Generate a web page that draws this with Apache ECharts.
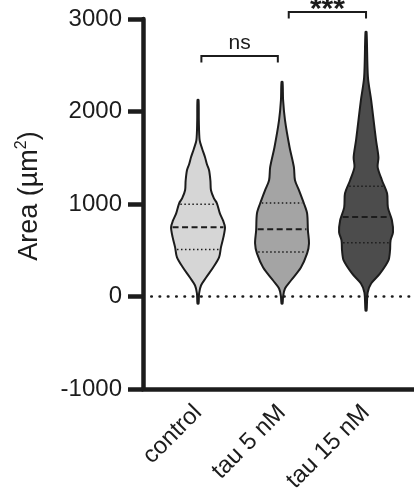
<!DOCTYPE html>
<html>
<head>
<meta charset="utf-8">
<script src="https://cdn.jsdelivr.net/npm/echarts@6/dist/echarts.min.js"></script>
<style>
  html, body { margin: 0; padding: 0; background: #fff; }
  #chart { width: 414px; height: 497px; }
</style>
</head>
<body>
<div id="chart"></div>
<script>
// groups, x position 1..3
const categories = ['control', 'tau 5 nM', 'tau 15 nM'];

// violin outlines: area levels (µm²) and relative density at each level
const controlLevels = [-76, 33, 119, 206, 314, 423, 531, 639, 748, 820, 899, 1008, 1060, 1148, 1250, 1365, 1430, 1506, 1600, 1690, 1900, 2124];
const controlDensity = [0.02, 0.04, 0.11, 0.30, 0.56, 0.78, 0.85, 0.94, 1.0, 0.93, 0.81, 0.70, 0.59, 0.48, 0.46, 0.41, 0.33, 0.26, 0.15, 0.06, 0.03, 0.02];

const tau5Levels = [-76, 0, 87, 173, 314, 466, 574, 715, 899, 1008, 1148, 1257, 1398, 1614, 1907, 2124, 2318];
const tau5Density = [0.02, 0.04, 0.11, 0.33, 0.70, 0.93, 1.0, 0.96, 0.93, 0.81, 0.63, 0.48, 0.44, 0.28, 0.11, 0.04, 0.02];

const tau15Levels = [-152, 43, 141, 249, 390, 498, 607, 694, 824, 964, 1116, 1257, 1398, 1506, 1690, 1907, 2124, 2373, 2860];
const tau15Density = [0.02, 0.06, 0.19, 0.52, 0.83, 0.89, 0.91, 1.0, 0.96, 0.81, 0.78, 0.59, 0.43, 0.46, 0.37, 0.28, 0.19, 0.07, 0.02];

// quartiles
const medians = [748, 726, 859];
const lowerQuartiles = [509, 480, 582];
const upperQuartiles = [997, 1011, 1192];

// significance brackets
const bracketStart = [1.04, 2.08];
const bracketEnd = [1.95, 3.0];
const bracketHeight = [2600, 3077];
const bracketLabels = ['ns', '***'];

const yTicks = [-1000, 0, 1000, 2000, 3000];

const violinLevels = [controlLevels, tau5Levels, tau15Levels];
const violinDensity = [controlDensity, tau5Density, tau15Density];
const fills = ['#d6d6d6', '#a4a4a4', '#4c4c4c'];
const ink = '#1c1c1c';
const HALF_WIDTH = 0.321; // x units for density 1
const font = "'Liberation Sans', Arial, sans-serif";

function widthAt(levels, dens, v) {
  for (let k = 0; k < levels.length - 1; k++) {
    if (v >= levels[k] && v <= levels[k + 1]) {
      const t = (v - levels[k]) / (levels[k + 1] - levels[k]);
      return dens[k] + t * (dens[k + 1] - dens[k]);
    }
  }
  return 0;
}

function renderViolin(params, api) {
  const i = params.dataIndex;
  const cx = api.value(0);
  const levels = violinLevels[i];
  const dens = violinDensity[i];
  const right = [];
  const left = [];
  for (let k = 0; k < levels.length; k++) {
    const w = dens[k] * HALF_WIDTH;
    right.push(api.coord([cx + w, levels[k]]));
    left.push(api.coord([cx - w, levels[k]]));
  }
  const children = [{
    type: 'polygon',
    shape: { points: right.concat(left.reverse()), smooth: 0.3 },
    style: { fill: fills[i], stroke: ink, lineWidth: 2 }
  }];
  const lines = [
    [lowerQuartiles[i], [1.5, 2.5], 1.5],
    [medians[i], [6, 3.5], 2],
    [upperQuartiles[i], [1.5, 2.5], 1.5]
  ];
  lines.forEach(([v, dash, lw]) => {
    const w = widthAt(levels, dens, v) * HALF_WIDTH;
    const a = api.coord([cx - w, v]);
    const b = api.coord([cx + w, v]);
    children.push({
      type: 'line',
      shape: { x1: a[0] + 1.5, y1: a[1], x2: b[0] - 1.5, y2: b[1] },
      style: { stroke: ink, lineWidth: lw, lineDash: dash }
    });
  });
  return { type: 'group', children };
}

function renderBracket(params, api) {
  const i = params.dataIndex;
  const a = api.coord([api.value(0), api.value(2)]);
  const b = api.coord([api.value(1), api.value(2)]);
  const leg = 6.5;
  const label = bracketLabels[i];
  const stars = label.indexOf('*') >= 0;
  return {
    type: 'group',
    children: [
      {
        type: 'polyline',
        shape: { points: [[a[0], a[1] + leg], a, b, [b[0], b[1] + leg]] },
        style: { stroke: ink, lineWidth: 2, fill: null }
      },
      {
        type: 'text',
        x: (a[0] + b[0]) / 2,
        y: a[1] - (stars ? 2 : 13),
        style: {
          text: label,
          fill: ink,
          font: (stars ? 'bold 30px ' : '21px ') + font,
          align: 'center',
          verticalAlign: 'middle'
        }
      }
    ]
  };
}

const chart = echarts.init(document.getElementById('chart'));

chart.setOption({
  animation: false,
  grid: { left: 143, right: 0, top: 19, bottom: 108, containLabel: false },
  xAxis: {
    type: 'value',
    min: 0.345,
    max: 3.571,
    splitLine: { show: false },
    axisTick: { show: false },
    axisLine: { onZero: false, lineStyle: { color: ink, width: 4.5 } },
    axisLabel: {
      customValues: [1, 2, 3],
      formatter: v => categories[Math.round(v) - 1] || '',
      rotate: 45,
      margin: 20,
      color: ink,
      fontSize: 24,
      fontFamily: font
    }
  },
  yAxis: {
    type: 'value',
    min: -1000,
    max: 3000,
    interval: 1000,
    splitLine: { show: false },
    axisLine: { show: true, lineStyle: { color: ink, width: 4.5 } },
    axisTick: { show: true, length: 15, lineStyle: { color: ink, width: 4.5 } },
    axisLabel: {
      margin: 21,
      color: ink,
      fontSize: 24,
      fontFamily: font,
      customValues: yTicks,
      formatter: v => String(v)
    },
    name: '{a|Area (µm}{s|2}{a|)}',
    nameLocation: 'middle',
    nameRotate: 90,
    nameGap: 97,
    nameTextStyle: {
      padding: [0, 0, 0, 16],
      rich: {
        a: { fontSize: 27, fontFamily: font, color: ink, lineHeight: 32 },
        s: { fontSize: 16, fontFamily: font, color: ink, lineHeight: 32, verticalAlign: 'top' }
      }
    }
  },
  series: [
    {
      type: 'custom',
      renderItem: renderViolin,
      data: categories.map((c, i) => [i + 1]),
      z: 2,
      markLine: {
        silent: true,
        symbol: 'none',
        label: { show: false },
        lineStyle: { color: ink, width: 2.6, type: [0.5, 7.8], cap: 'round' },
        data: [{ yAxis: 0 }]
      }
    },
    {
      type: 'custom',
      renderItem: renderBracket,
      clip: false,
      data: bracketLabels.map((l, i) => [bracketStart[i], bracketEnd[i], bracketHeight[i]]),
      z: 3
    }
  ]
});
</script>
</body>
</html>
